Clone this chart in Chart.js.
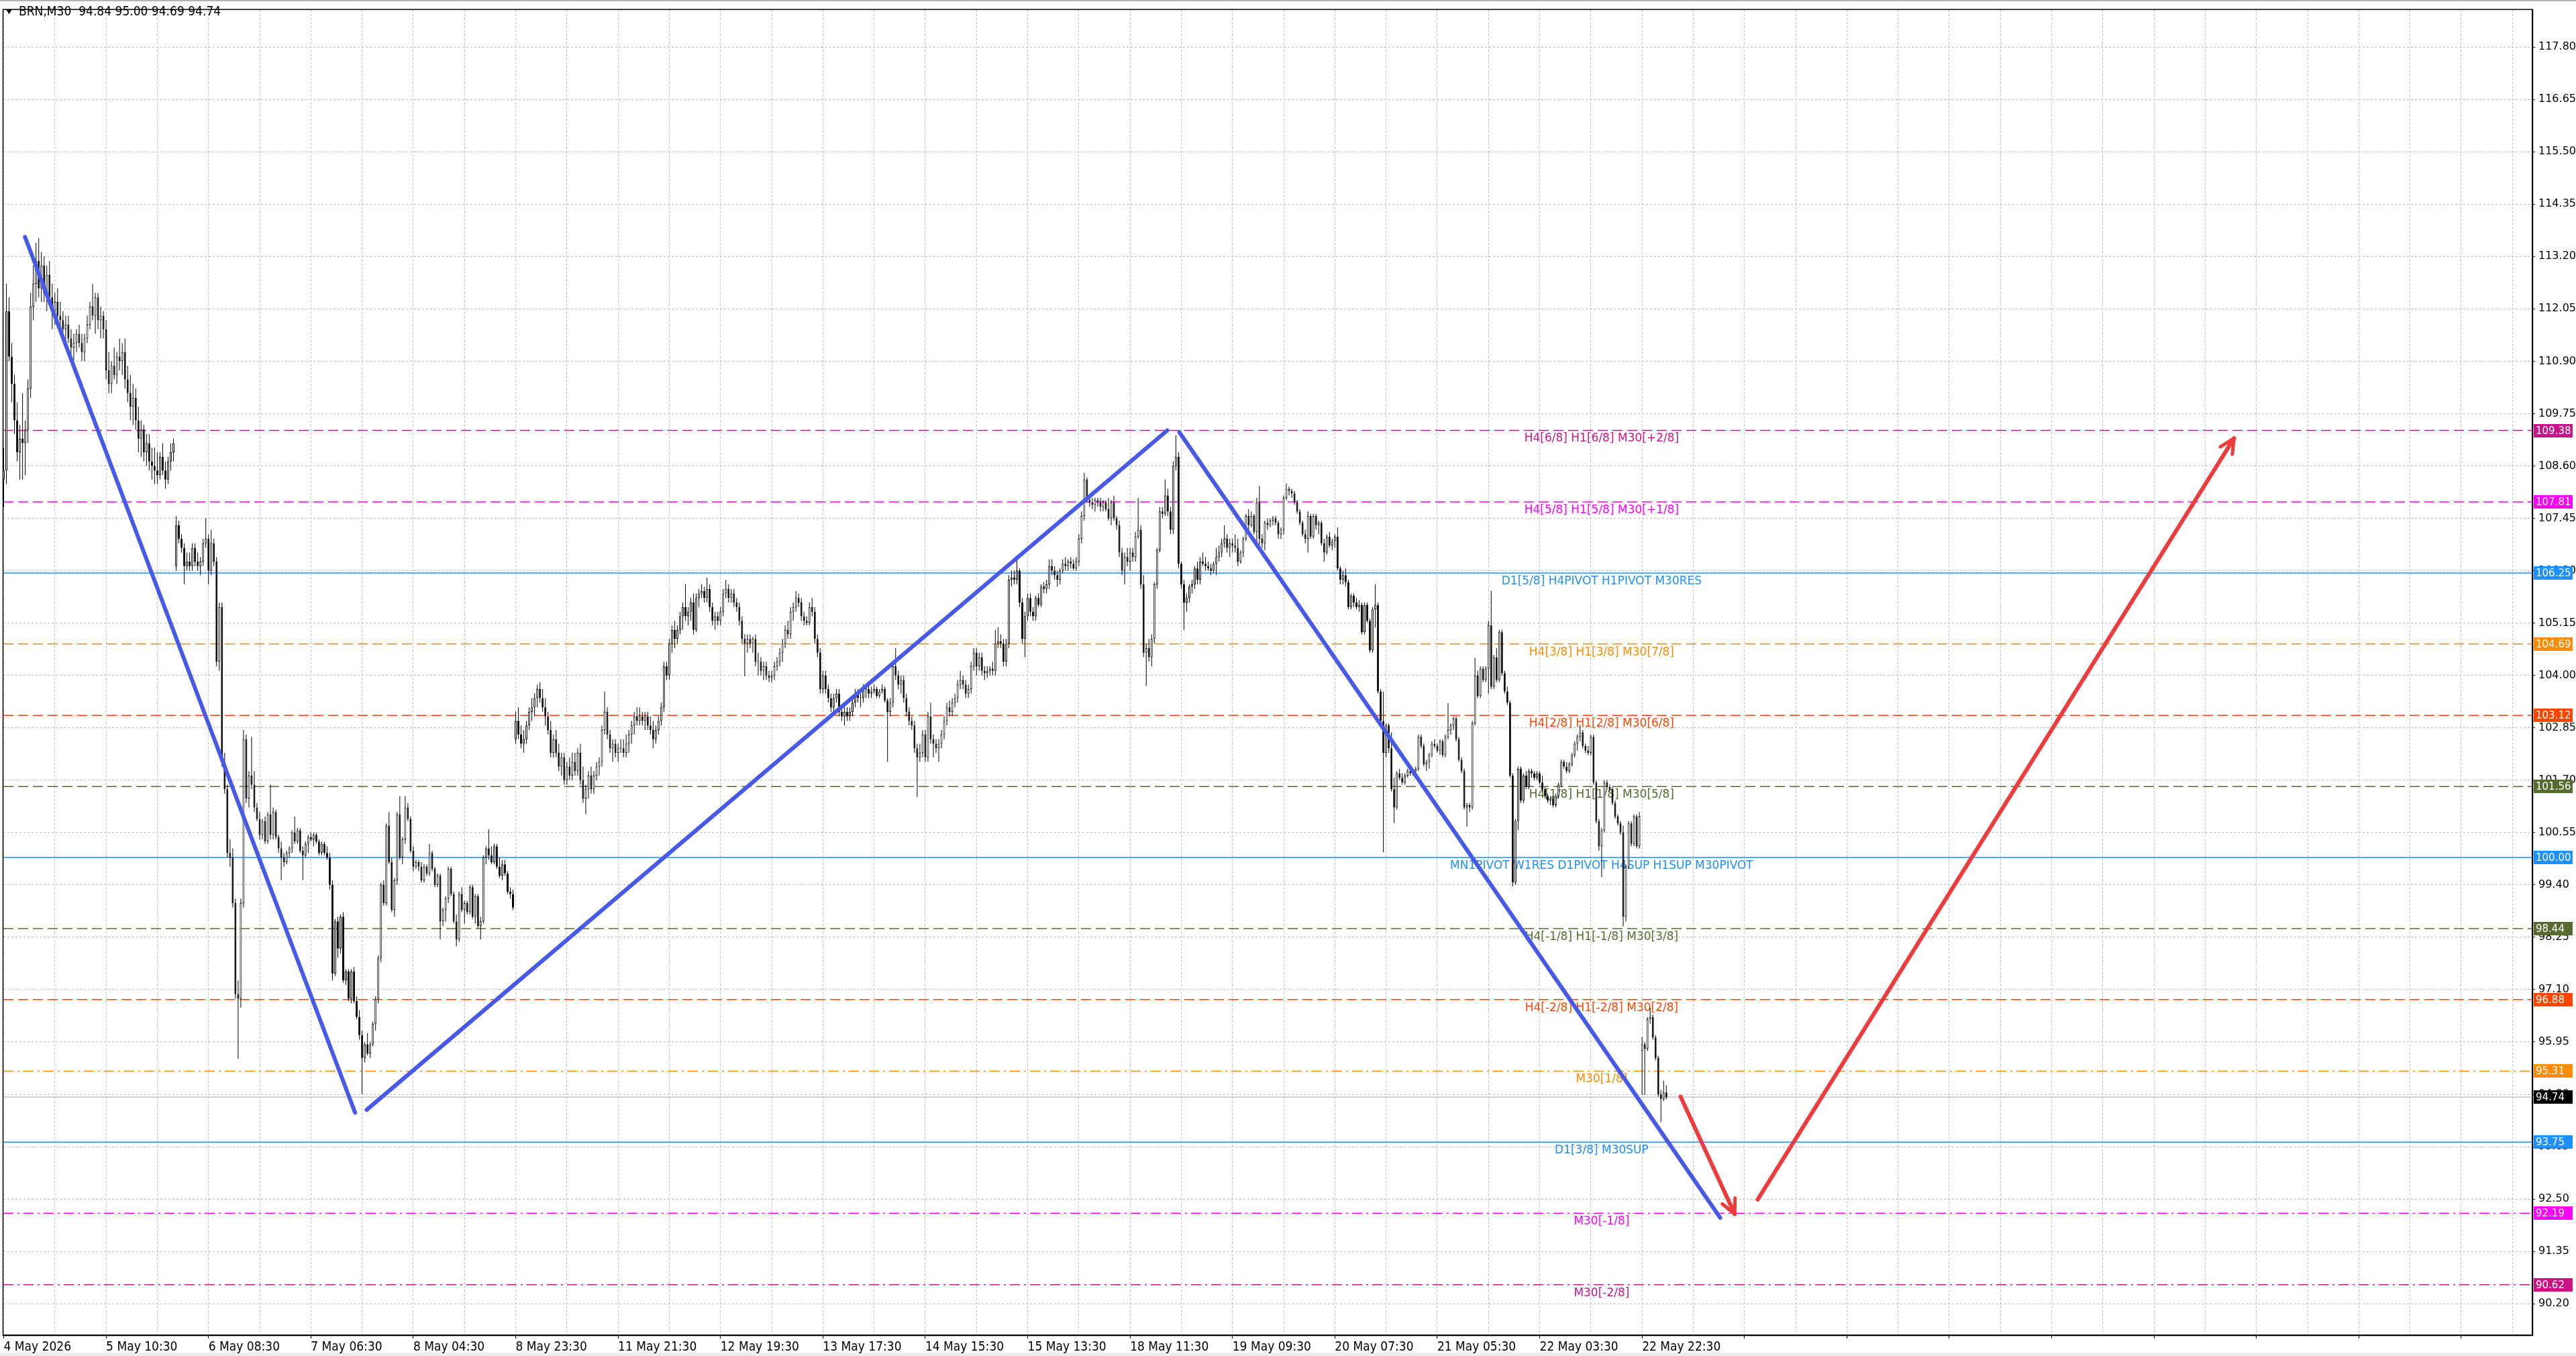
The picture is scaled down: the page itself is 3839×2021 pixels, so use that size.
<!DOCTYPE html>
<html>
<head>
<meta charset="utf-8">
<title>BRN,M30</title>
<script src="https://cdn.jsdelivr.net/npm/chart.js@4.4.1/dist/chart.umd.min.js"></script>
<style>
  html, body { margin: 0; padding: 0; background: #fff; }
  #wrap { width: 3839px; height: 2021px; }
</style>
</head>
<body>
<div id="wrap"><canvas id="chart" width="3839" height="2021"></canvas></div>
<script>
// M30 candles, bar 0 = 4 May 2026
const opens = [
  108.3,108.5,112.0,111.0,110.4,109.6,108.9,109.2,109.1,109.4,110.3,112.1,112.6,113.1,112.5,113.0,112.4,112.8,112.3,
  112.0,112.2,111.9,111.8,111.6,111.7,111.4,111.2,111.3,111.5,111.3,111.1,111.4,111.7,112.1,111.9,112.3,111.8,111.9,
  111.6,110.7,110.4,110.8,110.6,111.0,110.9,111.1,110.5,110.2,109.9,110.1,109.6,109.2,109.4,108.9,109.1,108.7,108.6,108.5,108.4,108.8,108.5,108.3,108.7,108.9,
  106.4,107.3,107.0,106.8,106.4,106.5,106.4,106.8,106.5,106.4,106.5,106.9,107.0,106.3,106.9,
  106.5,104.3,105.5,102.1,101.5,100.1,100.0,99.0,97.0,96.9,99.0,
  102.6,101.3,101.8,101.6,101.1,100.85,100.5,100.8,100.35,100.95,
  100.5,101.0,100.45,100.2,100.0,99.9,100.1,100.2,100.55,100.35,
  100.6,100.15,100.05,100.3,100.45,100.4,100.5,100.35,100.1,100.3,
  100.1,100.0,99.4,97.45,98.6,98.0,98.7,97.3,97.5,96.9,
  97.5,96.85,96.5,96.1,95.6,95.9,95.7,95.9,96.35,96.9,
  97.8,99.4,99.0,100.7,99.9,98.85,99.5,100.95,100.0,100.4,
  101.1,100.85,100.15,99.8,99.9,99.8,99.5,99.8,99.65,100.1,
  99.75,99.4,99.6,98.6,98.85,99.1,99.75,99.2,98.6,98.2,
  99.2,98.85,99.0,98.8,99.35,98.7,99.15,98.5,98.6,100.0,
  100.2,100.05,99.9,100.25,99.8,99.6,99.85,99.65,99.25,99.2,
  102.6,103.0,102.7,102.5,102.6,102.9,103.2,103.3,103.5,103.7,
  103.5,103.3,103.1,102.8,102.3,102.6,102.3,102.0,102.2,101.7,
  102.0,101.8,102.1,101.9,102.3,101.7,101.3,101.5,101.8,101.5,
  101.8,102.0,102.1,102.8,103.2,102.7,102.4,102.5,102.3,102.4,
  102.4,102.3,102.5,102.7,102.9,103.1,103.0,103.1,103.0,103.1,
  102.9,102.8,102.6,102.8,103.0,103.3,104.2,104.0,104.7,105.0,
  104.8,105.0,105.3,105.5,105.3,105.4,105.6,105.0,105.7,105.8,
  105.85,105.7,105.9,105.5,105.2,105.3,105.2,105.4,105.8,105.9,
  105.7,105.8,105.6,105.5,105.2,104.8,104.7,104.8,104.7,104.8,
  104.3,104.3,104.1,104.2,104.0,103.95,104.0,104.2,104.3,104.5,
  104.7,105.0,104.9,105.4,105.5,105.7,105.6,105.3,105.2,105.15,
  105.5,105.4,104.8,104.5,103.7,104.0,103.7,103.5,103.3,103.5,
  103.6,103.2,103.1,103.2,103.1,103.2,103.4,103.6,103.5,103.5,
  103.7,103.7,103.6,103.65,103.7,103.55,103.65,103.7,103.45,103.2,
  103.4,104.2,104.0,103.8,103.9,103.5,103.2,103.0,102.9,102.4,
  102.2,102.3,102.7,102.2,103.1,102.6,102.5,102.4,102.5,102.7,
  103.0,103.3,103.2,103.4,103.5,103.8,103.9,103.8,103.6,103.7,
  104.2,104.5,104.2,104.4,104.1,104.05,104.1,104.15,104.1,104.7,
  104.75,104.7,104.3,
  104.7,106.1,106.15,106.1,106.3,105.6,104.8,105.3,105.7,105.4,
  105.3,105.7,105.55,105.95,105.9,106.0,106.4,106.3,106.2,106.1,
  106.3,106.45,106.4,106.5,106.45,106.35,106.5,107.0,107.5,108.3,
  107.85,107.8,107.75,107.85,107.8,107.7,107.8,107.65,107.45,107.8,
  107.45,107.3,106.7,106.3,106.6,106.5,106.7,106.6,107.05,107.2,
  106.0,104.5,104.6,104.4,104.8,106.0,106.75,107.6,107.55,107.95,
  107.6,107.2,108.6,108.8,106.45,106.0,105.6,105.7,105.95,106.0,
  106.35,106.1,106.5,106.45,106.4,106.35,106.3,106.45,106.6,106.7,
  106.9,107.0,106.8,106.9,106.85,106.8,106.5,106.7,107.0,107.5,
  107.3,107.5,107.15,107.8,107.0,106.9,107.35,107.3,107.4,107.45,
  107.35,107.1,107.2,107.9,108.1,108.05,108.0,107.8,107.6,107.35,
  107.1,107.0,107.5,107.05,107.5,107.3,107.35,106.9,106.7,107.05,
  106.85,106.95,107.05,106.35,106.1,106.2,106.05,105.5,105.75,105.6,
  105.5,105.55,104.95,105.55,105.2,104.55,105.45,105.55,103.65,103.0,
  102.3,102.9,102.4,101.5,
  101.1,101.85,101.75,101.65,101.8,101.9,101.85,101.9,101.95,102.65,
  102.45,102.05,102.1,102.25,102.5,102.45,102.35,102.55,102.25,102.65,
  102.8,102.9,103.05,102.6,102.15,101.9,101.1,101.15,101.1,102.95,
  104.0,103.55,104.15,103.9,104.15,105.1,103.75,104.4,103.9,104.95,
  104.05,103.65,103.4,101.8,99.45,100.8,101.95,101.25,101.8,101.55,
  101.9,101.85,101.75,101.85,101.65,101.5,101.35,101.25,101.3,101.15,
  101.35,101.6,102.1,102.0,101.9,102.05,102.25,102.5,102.65,102.75,
  102.45,102.35,102.3,102.65,101.65,100.8,100.25,100.6,101.65,101.55,
  101.5,101.2,100.9,100.75,100.55,98.7,99.8,100.75,100.3,100.9,100.25,
  95.75,95.9,95.8,96.45,96.5,96.05,95.6,94.8,94.7,94.84
];
const highs = [
  109.0,112.6,112.3,111.3,110.6,110.0,109.5,110.2,109.6,110.5,112.4,113.0,113.5,113.6,113.3,113.2,113.0,113.1,112.6,
  112.4,112.5,112.2,112.0,111.9,111.9,111.6,111.5,111.6,111.7,111.5,111.5,111.9,112.2,112.6,112.4,112.4,112.1,112.0,
  111.8,111.1,110.9,111.2,111.1,111.4,111.3,111.4,110.8,110.6,110.4,110.3,109.9,109.6,109.5,109.3,109.3,109.0,109.0,108.9,108.9,109.1,108.7,108.8,109.1,109.2,
  107.5,107.4,107.1,106.9,106.7,106.7,106.9,106.9,106.7,106.6,107.0,107.45,107.1,107.2,107.0,
  106.6,105.6,105.6,102.3,101.6,100.4,100.2,99.1,97.3,99.1,102.8,
  102.7,101.9,102.65,101.9,101.2,101.0,100.85,100.9,101.0,101.6,
  101.1,101.05,100.5,100.35,100.1,100.15,100.25,100.6,100.9,100.65,
  100.65,100.25,100.35,100.5,100.55,100.55,100.55,100.4,100.35,100.35,
  100.25,100.1,99.5,98.65,98.7,98.75,98.8,97.55,97.55,97.55,
  97.6,96.95,96.65,96.2,95.95,96.15,95.95,96.4,96.95,97.85,
  99.45,99.5,100.75,101.0,100.0,99.55,101.0,101.35,100.45,101.35,
  101.2,100.9,100.25,99.95,99.95,99.9,99.85,99.85,100.3,100.15,
  99.8,99.65,99.65,98.9,99.15,99.8,99.8,99.25,98.75,99.25,
  99.35,99.05,99.05,99.4,99.4,99.2,99.2,98.7,100.05,100.25,
  100.62,100.25,100.3,100.3,100.0,99.95,99.95,99.7,99.35,99.3,
  103.2,103.3,102.9,102.8,103.0,103.3,103.5,103.6,103.8,103.85,
  103.7,103.5,103.2,103.0,102.7,102.8,102.5,102.3,102.3,102.1,
  102.2,102.3,102.3,102.4,102.5,102.0,101.6,101.9,102.0,101.9,
  102.1,102.2,102.9,103.65,103.3,102.8,102.6,102.6,102.5,102.6,
  102.6,102.7,102.8,103.0,103.2,103.3,103.3,103.2,103.2,103.2,
  103.1,103.0,102.9,103.1,103.4,104.3,104.3,104.8,105.1,105.2,
  105.1,105.4,105.6,106.0,105.5,105.7,105.8,105.8,105.9,106.0,
  105.95,106.15,106.0,105.6,105.4,105.4,105.5,105.9,106.1,106.0,
  105.9,105.9,105.7,105.6,105.3,104.9,104.9,104.9,104.85,104.9,
  104.5,104.4,104.3,104.3,104.1,104.1,104.3,104.4,104.6,104.8,
  105.1,105.2,105.5,105.6,105.85,105.8,105.7,105.4,105.3,105.6,
  105.7,105.5,104.9,104.6,104.1,104.1,103.8,103.6,103.6,103.7,
  103.7,103.3,103.3,103.3,103.3,103.5,103.7,103.7,103.6,103.8,
  103.8,103.8,103.75,103.8,103.75,103.7,103.8,103.75,103.5,103.5,
  104.3,104.6,104.1,104.0,104.0,103.6,103.3,103.1,103.0,102.5,
  102.5,102.8,102.8,103.2,103.4,102.7,102.6,102.6,102.8,103.1,
  103.4,103.45,103.5,103.6,103.9,104.1,104.0,103.9,103.8,104.3,
  104.6,104.6,104.5,104.5,104.2,104.2,104.2,104.3,105.0,105.06,
  104.9,104.8,104.8,
  106.2,106.3,106.3,106.6,106.35,105.7,105.4,105.8,105.8,105.5,
  105.75,105.8,106.0,106.05,106.1,106.55,106.55,106.4,106.3,106.35,
  106.55,106.6,106.55,106.6,106.55,106.6,107.1,107.6,108.45,108.35,
  107.95,107.9,107.9,107.9,107.9,107.85,107.85,107.9,107.85,107.95,
  107.5,107.4,106.8,106.7,106.8,106.8,106.8,107.15,107.9,107.3,
  106.2,104.7,104.8,104.9,106.05,106.8,107.7,107.7,108.3,108.1,
  107.7,108.7,109.27,108.9,106.5,106.1,105.8,106.0,106.1,106.4,
  106.5,106.6,106.7,106.6,106.5,106.45,106.5,106.8,106.85,107.0,
  107.3,107.1,107.0,107.0,107.1,107.0,106.75,107.05,107.55,107.65,
  107.6,107.55,107.9,108.16,107.1,107.4,107.45,107.45,107.5,107.5,
  107.4,107.25,107.95,108.22,108.15,108.1,108.05,107.85,107.65,107.4,
  107.2,107.6,107.55,107.55,107.55,107.4,107.4,107.0,107.1,107.15,
  107.0,107.1,107.25,106.4,106.3,106.35,106.1,105.8,105.8,105.7,
  105.65,105.6,105.6,105.6,105.25,105.5,106.0,105.6,103.7,103.65,
  102.95,102.95,102.75,101.75,
  101.9,101.95,101.85,101.85,101.95,101.95,101.95,102.0,102.7,102.7,
  102.5,102.15,102.3,102.55,102.6,102.5,102.6,102.6,102.7,103.39,
  102.95,103.1,103.1,102.65,102.2,101.95,101.2,101.2,103.0,104.38,
  104.1,104.2,104.2,104.2,105.2,105.86,104.45,104.6,105.0,105.0,
  104.1,103.75,103.45,101.85,100.85,102.0,102.0,101.85,101.9,101.95,
  101.95,101.9,101.9,101.9,101.8,101.55,101.4,101.35,101.35,101.4,
  101.65,102.15,102.15,102.1,102.1,102.3,102.55,102.7,102.91,102.8,
  102.5,102.45,102.7,102.7,101.7,100.85,100.65,101.7,101.7,101.6,
  101.55,101.25,100.95,100.8,100.7,99.85,100.8,100.8,100.95,100.95,101.0,
  96.06,95.95,96.5,96.7,96.55,96.1,95.65,94.9,95.1,95.0
];
const lows = [
  107.7,108.2,110.9,110.0,109.3,108.7,108.3,108.3,108.4,109.1,110.1,111.8,112.2,112.3,112.2,112.2,112.0,112.1,111.6,
  111.7,111.8,111.6,111.4,111.3,111.3,111.0,110.9,111.1,111.2,110.9,110.9,111.3,111.6,111.8,111.5,111.6,111.4,111.4,
  110.5,110.2,110.2,110.5,110.4,110.7,110.6,110.3,110.0,109.6,109.5,109.4,108.9,108.8,108.7,108.6,108.5,108.3,108.2,108.2,108.3,108.4,108.1,108.2,108.5,108.7,
  106.3,106.9,106.7,106.0,106.3,106.3,106.3,106.4,106.3,106.2,106.4,106.8,106.0,106.2,106.4,
  104.2,104.1,102.0,101.4,100.0,99.8,98.9,96.9,95.58,96.7,98.9,
  101.2,101.1,101.5,101.0,100.8,100.4,100.4,100.3,100.3,100.4,
  100.4,100.4,100.1,99.5,99.8,99.85,100.0,100.1,100.3,100.3,
  100.1,99.5,100.0,100.1,100.35,100.25,100.3,100.05,100.05,100.05,
  99.95,99.3,97.3,97.4,97.8,97.9,97.25,97.2,96.85,96.8,
  96.8,96.45,96.0,94.8,95.5,95.65,95.6,95.85,96.2,96.8,
  97.7,98.95,98.95,99.85,98.8,98.7,99.4,99.95,99.85,100.3,
  100.8,100.1,99.7,99.75,99.7,99.45,99.45,99.6,99.6,99.7,
  99.35,99.35,98.2,98.5,98.6,99.0,99.15,98.55,98.05,98.15,
  98.8,98.55,98.75,98.75,98.65,98.55,98.45,98.2,98.55,99.85,
  99.95,99.85,99.85,99.75,99.55,99.5,99.6,99.2,99.1,98.85,
  102.5,102.6,102.4,102.3,102.5,102.8,103.0,103.1,103.3,103.4,
  103.2,102.9,102.7,102.2,102.2,102.2,101.9,101.8,101.6,101.6,
  101.7,101.7,101.8,101.8,101.6,101.2,100.95,101.3,101.4,101.4,
  101.7,101.8,102.0,102.7,102.6,102.3,102.1,102.2,102.1,102.3,
  102.2,102.2,102.3,102.5,102.7,102.9,102.9,102.9,102.8,102.8,
  102.7,102.4,102.5,102.7,102.9,103.2,103.9,103.9,104.5,104.6,
  104.7,104.9,105.0,105.2,105.1,105.2,104.9,104.95,105.5,105.7,
  105.6,105.6,105.4,105.1,105.0,105.1,105.1,105.3,105.7,105.6,
  105.6,105.5,105.4,105.1,104.7,103.98,104.5,104.6,104.5,104.2,
  104.0,104.0,103.9,103.9,103.85,103.85,103.9,104.1,104.2,104.3,
  104.6,104.8,104.8,105.2,105.4,105.5,105.2,105.1,105.1,105.1,
  105.3,104.7,104.4,103.6,103.6,103.6,103.4,103.2,103.2,103.4,
  103.1,103.0,102.9,103.0,103.0,103.1,103.3,103.4,103.3,103.4,
  103.5,103.5,103.5,103.6,103.5,103.5,103.6,103.4,102.1,103.1,
  103.3,103.9,103.7,103.6,103.4,103.1,102.9,102.8,102.3,101.33,
  102.1,102.2,102.1,102.1,102.5,102.2,102.3,102.1,102.4,102.6,
  102.9,103.1,103.1,103.3,103.4,103.7,103.7,103.5,103.5,103.6,
  104.1,104.0,104.1,104.0,103.9,103.95,104.0,104.0,104.0,104.6,
  104.6,104.2,104.2,
  104.6,105.95,106.0,106.0,105.5,104.7,104.4,105.2,105.3,105.2,
  105.2,105.5,105.5,105.8,105.8,105.9,106.2,106.1,105.95,106.0,
  106.25,106.3,106.3,106.35,106.3,106.3,106.4,106.9,107.4,107.8,
  107.7,107.65,107.6,107.7,107.6,107.6,107.6,107.4,107.3,107.4,
  107.2,106.6,106.2,106.0,106.4,106.3,106.5,106.5,107.0,105.9,
  104.4,103.77,104.3,104.2,104.7,105.9,106.7,107.45,107.5,107.5,
  107.1,107.1,108.5,106.35,105.9,105.0,105.4,105.6,105.8,105.9,
  106.0,106.0,106.4,106.3,106.3,106.2,106.25,106.2,106.5,106.6,
  106.8,106.7,106.6,106.7,106.7,106.4,106.45,106.6,106.95,107.2,
  107.25,107.1,106.85,106.85,106.8,106.75,107.2,107.25,107.3,107.3,
  107.0,107.0,107.1,107.85,107.95,107.9,107.75,107.55,107.3,107.05,
  106.9,106.7,107.0,107.0,107.2,107.1,106.85,106.5,106.65,106.8,
  106.75,106.8,106.3,106.0,106.0,105.95,105.45,105.45,105.5,105.45,
  105.4,104.9,104.9,105.15,104.5,104.5,105.05,103.6,102.9,100.12,
  102.2,102.3,101.45,100.76,
  101.05,101.7,101.6,101.6,101.75,101.8,101.8,101.8,101.9,102.4,
  102.0,101.9,101.95,102.2,102.4,102.3,102.25,102.2,102.2,102.6,
  102.7,102.8,102.55,102.1,101.85,101.05,100.68,101.0,101.05,102.9,
  103.5,103.5,103.85,103.85,103.6,103.7,103.7,103.85,103.85,104.0,
  103.6,103.35,101.75,99.37,99.4,100.6,101.2,101.2,101.5,101.5,
  101.75,101.7,101.7,101.6,101.45,101.3,101.2,101.15,101.1,101.1,
  101.3,101.55,101.95,101.85,101.85,102.0,102.2,102.35,102.55,102.4,
  102.3,102.25,102.25,101.6,100.75,100.15,99.57,100.55,101.5,101.45,
  101.15,100.85,100.7,100.5,98.49,98.6,99.75,100.25,100.25,100.2,100.2,
  94.79,94.79,95.75,96.35,96.0,95.55,94.75,94.19,94.65,94.69
];
const closes = [
  108.5,112.0,111.0,110.4,109.6,108.9,109.2,109.1,109.4,110.3,112.1,112.6,113.1,112.5,113.0,112.4,112.8,112.3,112.0,
  112.2,111.9,111.8,111.6,111.7,111.4,111.2,111.3,111.5,111.3,111.1,111.4,111.7,112.1,111.9,112.3,111.8,111.9,111.6,
  110.7,110.4,110.8,110.6,111.0,110.9,111.1,110.5,110.2,109.9,110.1,109.6,109.2,109.4,108.9,109.1,108.7,108.6,108.5,108.4,108.8,108.5,108.3,108.7,108.9,109.1,
  107.3,107.0,106.8,106.4,106.5,106.4,106.8,106.5,106.4,106.5,106.9,107.0,106.3,106.9,106.5,
  104.3,105.5,102.1,101.5,100.1,100.0,99.0,97.0,96.9,99.0,102.6,
  101.3,101.8,101.6,101.1,100.85,100.5,100.8,100.35,100.95,100.5,
  101.0,100.45,100.2,100.0,99.9,100.1,100.2,100.55,100.35,100.6,
  100.15,100.05,100.3,100.45,100.4,100.5,100.35,100.1,100.3,100.1,
  100.0,99.4,97.45,98.6,98.0,98.7,97.3,97.5,96.9,97.5,
  96.85,96.5,96.1,95.6,95.9,95.7,95.9,96.35,96.9,97.8,
  99.4,99.0,100.7,99.9,98.85,99.5,100.95,100.0,100.4,101.1,
  100.85,100.15,99.8,99.9,99.8,99.5,99.8,99.65,100.1,99.75,
  99.4,99.6,98.6,98.85,99.1,99.75,99.2,98.6,98.2,99.2,
  98.85,99.0,98.8,99.35,98.7,99.15,98.5,98.6,100.0,100.2,
  100.05,99.9,100.25,99.8,99.6,99.85,99.65,99.25,99.2,98.9,
  103.0,102.7,102.5,102.6,102.9,103.2,103.3,103.5,103.7,103.5,
  103.3,103.1,102.8,102.3,102.6,102.3,102.0,102.2,101.7,102.0,
  101.8,102.1,101.9,102.3,101.7,101.3,101.5,101.8,101.5,101.8,
  102.0,102.1,102.8,103.2,102.7,102.4,102.5,102.3,102.4,102.4,
  102.3,102.5,102.7,102.9,103.1,103.0,103.1,103.0,103.1,102.9,
  102.8,102.6,102.8,103.0,103.3,104.2,104.0,104.7,105.0,104.8,
  105.0,105.3,105.5,105.3,105.4,105.6,105.0,105.7,105.8,105.85,
  105.7,105.9,105.5,105.2,105.3,105.2,105.4,105.8,105.9,105.7,
  105.8,105.6,105.5,105.2,104.8,104.7,104.8,104.7,104.8,104.3,
  104.3,104.1,104.2,104.0,103.95,104.0,104.2,104.3,104.5,104.7,
  105.0,104.9,105.4,105.5,105.7,105.6,105.3,105.2,105.15,105.5,
  105.4,104.8,104.5,103.7,104.0,103.7,103.5,103.3,103.5,103.6,
  103.2,103.1,103.2,103.1,103.2,103.4,103.6,103.5,103.5,103.7,
  103.7,103.6,103.65,103.7,103.55,103.65,103.7,103.45,103.2,103.4,
  104.2,104.0,103.8,103.9,103.5,103.2,103.0,102.9,102.4,102.2,
  102.3,102.7,102.2,103.1,102.6,102.5,102.4,102.5,102.7,103.0,
  103.3,103.2,103.4,103.5,103.8,103.9,103.8,103.6,103.7,104.2,
  104.5,104.2,104.4,104.1,104.05,104.1,104.15,104.1,104.7,104.75,
  104.7,104.3,104.7,
  106.1,106.15,106.1,106.3,105.6,104.8,105.3,105.7,105.4,105.3,
  105.7,105.55,105.95,105.9,106.0,106.4,106.3,106.2,106.1,106.3,
  106.45,106.4,106.5,106.45,106.35,106.5,107.0,107.5,108.3,107.85,
  107.8,107.75,107.85,107.8,107.7,107.8,107.65,107.45,107.8,107.45,
  107.3,106.7,106.3,106.6,106.5,106.7,106.6,107.05,107.2,106.0,
  104.5,104.6,104.4,104.8,106.0,106.75,107.6,107.55,107.95,107.6,
  107.2,108.6,108.8,106.45,106.0,105.6,105.7,105.95,106.0,106.35,
  106.1,106.5,106.45,106.4,106.35,106.3,106.45,106.6,106.7,106.9,
  107.0,106.8,106.9,106.85,106.8,106.5,106.7,107.0,107.5,107.3,
  107.5,107.15,107.8,107.0,106.9,107.35,107.3,107.4,107.45,107.35,
  107.1,107.2,107.9,108.1,108.05,108.0,107.8,107.6,107.35,107.1,
  107.0,107.5,107.05,107.5,107.3,107.35,106.9,106.7,107.05,106.85,
  106.95,107.05,106.35,106.1,106.2,106.05,105.5,105.75,105.6,105.5,
  105.55,104.95,105.55,105.2,104.55,105.45,105.55,103.65,103.0,102.3,
  102.9,102.4,101.5,101.1,
  101.85,101.75,101.65,101.8,101.9,101.85,101.9,101.95,102.65,102.45,
  102.05,102.1,102.25,102.5,102.45,102.35,102.55,102.25,102.65,102.8,
  102.9,103.05,102.6,102.15,101.9,101.1,101.15,101.1,102.95,104.0,
  103.55,104.15,103.9,104.15,105.1,103.75,104.4,103.9,104.95,104.05,
  103.65,103.4,101.8,99.45,100.8,101.95,101.25,101.8,101.55,101.9,
  101.85,101.75,101.85,101.65,101.5,101.35,101.25,101.3,101.15,101.35,
  101.6,102.1,102.0,101.9,102.05,102.25,102.5,102.65,102.75,102.45,
  102.35,102.3,102.65,101.65,100.8,100.25,100.6,101.65,101.55,101.5,
  101.2,100.9,100.75,100.55,98.7,99.8,100.75,100.3,100.9,100.25,100.9,
  95.9,95.8,96.45,96.5,96.05,95.6,94.8,94.7,94.84,94.74
];

// time axis labels, one every 38 bars
const timeLabels = ['4 May 2026','5 May 10:30','6 May 08:30','7 May 06:30','8 May 04:30','8 May 23:30',
  '11 May 21:30','12 May 19:30','13 May 17:30','14 May 15:30','15 May 13:30','18 May 11:30',
  '19 May 09:30','20 May 07:30','21 May 05:30','22 May 03:30','22 May 22:30'];
const priceTicks = [117.80,116.65,115.50,114.35,113.20,112.05,110.90,109.75,108.60,107.45,106.30,105.15,
  104.00,102.85,101.70,100.55,99.40,98.25,97.10,95.95,94.80,93.65,92.50,91.35,90.20];

// Murrey / pivot levels
const levels = [109.38,107.81,106.25,104.69,103.12,101.56,100.00,98.44,96.88,95.31,93.75,92.19,90.62];
const levelNames = ['H4[6/8] H1[6/8] M30[+2/8]','H4[5/8] H1[5/8] M30[+1/8]','D1[5/8] H4PIVOT H1PIVOT M30RES',
  'H4[3/8] H1[3/8] M30[7/8]','H4[2/8] H1[2/8] M30[6/8]','H4[1/8] H1[1/8] M30[5/8]',
  'MN1PIVOT W1RES D1PIVOT H4SUP H1SUP M30PIVOT','H4[-1/8] H1[-1/8] M30[3/8]','H4[-2/8] H1[-2/8] M30[2/8]',
  'M30[1/8]','D1[3/8] M30SUP','M30[-1/8]','M30[-2/8]'];
const labelBar = 593;

// hand drawn lines: [bar, price] end points
const blueLines = [
  [[7.9, 113.63], [130.4, 94.40]],
  [[134.7, 94.46], [431.8, 109.38]],
  [[436.3, 109.34], [637.0, 92.09]]
];
const redArrows = [
  [[622.3, 94.75], [642.4, 92.17]],
  [[650.9, 92.49], [827.7, 109.21]]
];

// styles
const levelColors = ['#C71585','#FF00FF','#1E90FF','#FF8C00','#FF4500','#556B2F','#1E90FF','#556B2F','#FF4500','#FF8C00','#1E90FF','#FF00FF','#C71585'];
const levelStyle = ['dash','dash','solid','dash','dash','dash','solid','dash','dash','dot','solid','dot','dot'];
const dashes = { solid: [], dash: [15, 7], dot: [15, 6, 3, 6] };
const X_MIN = -0.125, X_MAX = 938.4;
const Y_MIN = 89.511, Y_MAX = 118.617;
const narrow = "'Liberation Sans Narrow', 'DejaVu Sans Condensed', 'Liberation Sans', sans-serif";

Chart.defaults.font.family = "'DejaVu Sans', sans-serif";
Chart.defaults.color = '#000';

const bars = closes.map((c, i) => i);
const last = closes.length - 1;

const datasets = [];
levels.forEach((v, k) => {
  datasets.push({
    type: 'line', data: [{x: X_MIN, y: v}, {x: X_MAX, y: v}],
    borderColor: levelColors[k], borderWidth: 1.5, borderDash: dashes[levelStyle[k]],
    pointRadius: 0, order: 6
  });
});
datasets.push({
  type: 'line', data: [{x: X_MIN, y: closes[last]}, {x: X_MAX, y: closes[last]}],
  borderColor: '#b8b8b8', borderWidth: 1.2, pointRadius: 0, order: 6
});
datasets.push({
  type: 'bar', grouped: false, order: 4,
  data: bars.map(i => ({x: i, y: [lows[i], highs[i]]})),
  backgroundColor: '#000', borderWidth: 0, barThickness: 1, inflateAmount: 0
});
datasets.push({
  type: 'bar', grouped: false, order: 3,
  data: bars.map(i => ({x: i, y: [opens[i], closes[i]]})),
  backgroundColor: bars.map(i => closes[i] >= opens[i] ? '#ffffff' : '#000000'),
  borderColor: '#000', borderWidth: 1, borderSkipped: false, barThickness: 3, minBarLength: 1, inflateAmount: 0
});
blueLines.forEach(l => datasets.push({
  type: 'line', data: l.map(p => ({x: p[0], y: p[1]})),
  borderColor: '#4659E8', borderWidth: 6, borderCapStyle: 'round', pointRadius: 0, order: 1
}));
redArrows.forEach(l => datasets.push({
  type: 'line', data: l.map(p => ({x: p[0], y: p[1]})), arrow: true,
  borderColor: '#EE3B3B', borderWidth: 6, borderCapStyle: 'round', pointRadius: 0, order: 1
}));

const framePlugin = {
  id: 'frame',
  beforeDraw(chart) {
    const {ctx, width, height} = chart;
    ctx.save();
    ctx.fillStyle = '#fff';
    ctx.fillRect(0, 0, width, height);
    ctx.fillStyle = '#b4b4b4';
    ctx.fillRect(0, 0, width, 2);
    ctx.fillStyle = '#ececec';
    ctx.fillRect(0, height - 5, width, 5);
    ctx.restore();
  },
  beforeDatasetsDraw(chart) {
    const {ctx, scales: {x, y}} = chart;
    ctx.save();
    ctx.font = "17px 'DejaVu Sans', sans-serif";
    ctx.textAlign = 'center';
    ctx.textBaseline = 'top';
    levels.forEach((v, k) => {
      ctx.fillStyle = levelColors[k];
      ctx.fillText(levelNames[k], x.getPixelForValue(labelBar), y.getPixelForValue(v) + 4);
    });
    ctx.restore();
  },
  afterDatasetsDraw(chart) {
    const ctx = chart.ctx;
    ctx.save();
    chart.data.datasets.forEach((ds, i) => {
      if (!ds.arrow) return;
      const pts = chart.getDatasetMeta(i).data;
      const a = pts[pts.length - 2], b = pts[pts.length - 1];
      const ang = Math.atan2(b.y - a.y, b.x - a.x);
      ctx.strokeStyle = ds.borderColor;
      ctx.lineWidth = 5;
      ctx.lineCap = 'round';
      ctx.beginPath();
      [-0.45, 0.45].forEach(d => {
        ctx.moveTo(b.x, b.y);
        ctx.lineTo(b.x - 24 * Math.cos(ang + d), b.y - 24 * Math.sin(ang + d));
      });
      ctx.stroke();
    });
    ctx.restore();
  },
  afterDraw(chart) {
    const {ctx, chartArea: a, scales: {y}} = chart;
    ctx.save();
    ctx.strokeStyle = '#000';
    ctx.lineWidth = 1.5;
    ctx.strokeRect(a.left - 0.5, a.top - 0.5, a.right - a.left + 1, a.bottom - a.top + 1);
    // price boxes on the right axis
    ctx.font = "15px 'DejaVu Sans', sans-serif";
    ctx.textBaseline = 'middle';
    ctx.textAlign = 'left';
    const boxes = levels.map((v, k) => [v, levelColors[k]]).concat([[closes[last], '#000000']]);
    boxes.forEach(([v, col]) => {
      const py = Math.round(y.getPixelForValue(v));
      ctx.fillStyle = col;
      ctx.fillRect(a.right + 2, py - 10, 58, 20);
      ctx.fillStyle = '#fff';
      ctx.fillText(v.toFixed(2), a.right + 5, py + 1);
    });
    // symbol header
    ctx.fillStyle = '#000';
    ctx.beginPath();
    ctx.moveTo(9, 14); ctx.lineTo(18, 14); ctx.lineTo(13.5, 21); ctx.closePath();
    ctx.fill();
    ctx.font = '19px ' + narrow;
    ctx.fillText('BRN,M30  ' + [opens[last], highs[last], lows[last], closes[last]].map(v => v.toFixed(2)).join(' '), 28, 18);
    ctx.restore();
  }
};

new Chart(document.getElementById('chart'), {
  type: 'bar',
  data: { datasets },
  options: {
    responsive: false,
    devicePixelRatio: 1,
    animation: false,
    layout: { padding: { left: 5, top: 5, right: 0, bottom: 0 } },
    plugins: { legend: { display: false }, tooltip: { enabled: false } },
    scales: {
      x: {
        type: 'linear', min: X_MIN, max: X_MAX, offset: false,
        grid: {
          offset: false, color: '#bdbdbd', lineWidth: 1, tickLength: 5, tickWidth: 1,
          tickColor: c => (c.index % 2 === 0 ? '#000' : 'rgba(0,0,0,0)')
        },
        border: { display: true, color: '#000', width: 2, dash: [3, 3] },
        afterBuildTicks: s => {
          const t = [];
          for (let v = 0; v <= X_MAX; v += 19) t.push({ value: v });
          s.ticks = t;
        },
        afterFit: s => { s.height = 31; },
        ticks: {
          autoSkip: false, maxRotation: 0, minRotation: 0, align: 'start', padding: 2,
          font: { family: narrow, size: 19 }, color: '#000',
          callback: (v, i) => (i % 2 === 0 && timeLabels[i / 2]) ? timeLabels[i / 2] : ''
        }
      },
      y: {
        type: 'linear', position: 'right', min: Y_MIN, max: Y_MAX, beginAtZero: false,
        grid: { color: '#bdbdbd', lineWidth: 1, tickLength: 4, tickColor: '#000' },
        border: { display: true, color: '#000', width: 2, dash: [3, 3] },
        afterBuildTicks: s => { s.ticks = priceTicks.map(v => ({ value: v })); },
        afterFit: s => { s.width = 65; },
        ticks: {
          padding: 5, color: '#000', font: { size: 16 },
          callback: v => Number(v).toFixed(2)
        }
      }
    }
  },
  plugins: [framePlugin]
});
</script>
</body>
</html>
